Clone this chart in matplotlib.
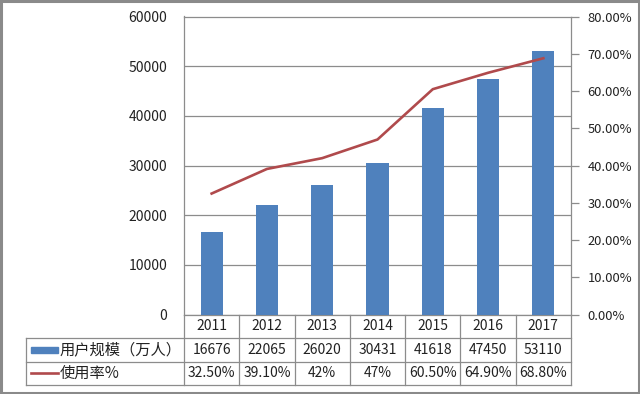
import matplotlib
matplotlib.use("Agg")
import matplotlib.pyplot as plt
from matplotlib.lines import Line2D
from matplotlib.patches import Rectangle

plt.rcParams["font.family"] = ["Noto Sans CJK SC", "DejaVu Sans"]

years = ["2011", "2012", "2013", "2014", "2015", "2016", "2017"]
users = [16676, 22065, 26020, 30431, 41618, 47450, 53110]
rates = [32.5, 39.1, 42, 47, 60.5, 64.9, 68.8]
rate_labels = ["32.50%", "39.10%", "42%", "47%", "60.50%", "64.90%", "68.80%"]
series_names = ["用户规模（万人）", "使用率%"]

BLUE = "#4F81BD"
RED = "#B04A4C"
GRID = "#8C8C8C"
TXT = "#222222"
FS = 10
W, H = 640, 394


def fx(x):
    return x / W


def fy(y):
    return 1 - y / H


fig = plt.figure(figsize=(6.4, 3.94), dpi=100)
left, right, top, bottom = 184, 571, 16.5, 314.7
ax = fig.add_axes([fx(left), fy(bottom), fx(right - left), (bottom - top) / H])

x = list(range(len(years)))
ax.bar(x, users, width=0.4, color=BLUE, zorder=3)
ax.set_xlim(-0.5, len(years) - 0.5)
ax.set_ylim(0, 60000)
ax.set_yticks(range(0, 60001, 10000))
ax.set_xticks([])
ax.tick_params(axis="y", length=0, pad=12, labelsize=FS, colors=TXT)
ax.grid(axis="y", color=GRID, linewidth=0.9, zorder=0)
ax.spines["right"].set_visible(False)
for side in ["left", "bottom", "top"]:
    ax.spines[side].set_color(GRID)
    ax.spines[side].set_linewidth(0.9)

ax2 = ax.twinx()
ax2.plot(x, rates, color=RED, linewidth=1.9, zorder=4)
ax2.set_ylim(0, 80)
ax2.set_yticks(range(0, 81, 10))
ax2.set_yticklabels([f"{v:.2f}%" for v in range(0, 81, 10)])
ax2.tick_params(axis="y", direction="out", length=6, width=0.9, color=GRID,
                pad=6, labelsize=9.3, labelcolor=TXT)
for side in ["top", "left", "bottom"]:
    ax2.spines[side].set_visible(False)
ax2.spines["right"].set_color(GRID)
ax2.spines["right"].set_linewidth(0.9)

# data table below the axes
colw = (right - left) / len(years)
rows = [314.7, 337.7, 361.7, 385]
tleft = 26


def hline(y, x0, x1):
    fig.add_artist(Line2D([fx(x0), fx(x1)], [fy(y), fy(y)], color=GRID, linewidth=0.9))


def vline(x0, y0, y1):
    fig.add_artist(Line2D([fx(x0), fx(x0)], [fy(y0), fy(y1)], color=GRID, linewidth=0.9))


for y in rows[1:]:
    hline(y, tleft, right)
vline(tleft, rows[1], rows[3])
for i in range(len(years) + 1):
    vline(left + i * colw, rows[0], rows[3])

for i, yr in enumerate(years):
    cx = fx(left + (i + 0.5) * colw)
    fig.text(cx, fy((rows[0] + rows[1]) / 2), yr, ha="center", va="center", fontsize=FS, color=TXT)
    fig.text(cx, fy((rows[1] + rows[2]) / 2), str(users[i]), ha="center", va="center", fontsize=FS, color=TXT)
    fig.text(cx, fy((rows[2] + rows[3]) / 2), rate_labels[i], ha="center", va="center", fontsize=FS, color=TXT)

fig.add_artist(Rectangle((fx(31), fy(353)), fx(27), 6 / H, color=BLUE))
fig.add_artist(Line2D([fx(31), fx(58)], [fy(372.5), fy(372.5)], color=RED, linewidth=1.9))
fig.text(fx(60), fy((rows[1] + rows[2]) / 2), series_names[0], ha="left", va="center", fontsize=11, color=TXT)
fig.text(fx(60), fy((rows[2] + rows[3]) / 2), series_names[1], ha="left", va="center", fontsize=11, color=TXT)

# outer frame
fig.add_artist(Rectangle((0.002, 0.003), 0.996, 0.994, fill=False,
                         edgecolor="#8A8A8A", linewidth=2.2))

fig.savefig("out.png", dpi=100)
